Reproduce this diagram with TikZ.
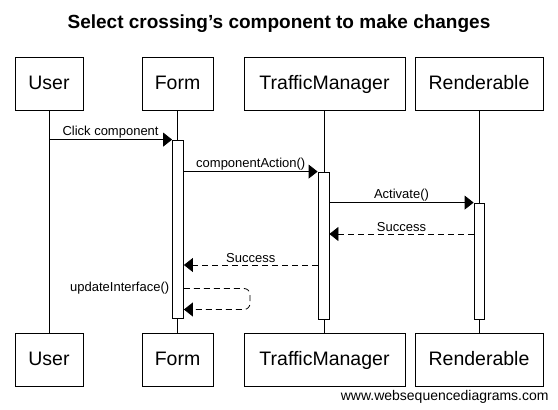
\documentclass[tikz,border=0pt]{standalone}
\usepackage{fontspec}
\setmainfont{Liberation Sans}
\usetikzlibrary{arrows.meta}

\begin{document}
\begin{tikzpicture}[x=1pt,y=-1pt,line width=0.8pt]
    \tikzstyle{actor}=[draw,minimum height=53pt,inner sep=0pt,text height=13pt,text depth=1pt,font=\fontsize{19.5}{22}\selectfont]
    \tikzstyle{activation}=[draw,fill=white,minimum width=11pt,inner sep=0pt]
    \tikzstyle{call}=[-{Triangle[length=9pt,width=14pt]}]
    \tikzstyle{reply}=[call,dash pattern=on 6pt off 4pt]
    \tikzstyle{msg}=[font=\fontsize{13}{15}\selectfont,inner sep=1.5pt]

    \useasboundingbox (0,0) rectangle (558,410);

    % Title
    \node[font=\bfseries\fontsize{19}{21}\selectfont] (title) at (279,24) {Select crossing’s component to make changes};

    % Draw the participant boxes, top and bottom
    \foreach \name/\x/\w/\label in {U/49/68/User,F/177.5/71/Form,T/324.5/161/TrafficManager,R/479/128/Renderable}
    {
        \node[actor, minimum width=\w pt] (T-\name) at (\x,83.5) {\label};
        \node[actor, minimum width=\w pt] (B-\name) at (\x,359.5) {\label};
        \draw (T-\name.south) -- (B-\name.north);
    }

    % Activation bars
    \node[activation, minimum height=178pt] (A-F) at (178,229) {};
    \node[activation, minimum height=147pt] (A-T) at (323.5,245.5) {};
    \node[activation, minimum height=116pt, minimum width=10pt] (A-R) at (479,261) {};

    % Calls
    \draw[call] (T-U.south |- A-F.north) -- node[msg,above] {Click component} (A-F.north west);
    \draw[call] (A-F.east |- A-T.north) -- node[msg,above] {componentAction()} (A-T.north west);
    \draw[call] (A-T.east |- A-R.north) -- node[msg,above] {Activate()} (A-R.north west);

    % Replies
    \coordinate (r1) at (0,234);
    \coordinate (r2) at (0,265);
    \draw[reply] (A-R.west |- r1) -- node[msg,above] {Success} (A-T.east |- r1);
    \draw[reply] (A-T.west |- r2) -- node[msg,above] {Success} (A-F.east |- r2);

    % Self call on the form
    \coordinate (s1) at (0,288.5);
    \coordinate (s2) at (0,309.5);
    \coordinate (s3) at (250,0);
    \draw[reply, rounded corners=6pt] (A-F.east |- s1) -- (s3 |- s1) -- (s3 |- s2) -- (A-F.east |- s2);
    \node[msg, anchor=east] (upd) at ([xshift=-1pt]A-F.west |- s1) {updateInterface()};

    % Footer
    \node[font=\fontsize{14}{16}\selectfont, anchor=east, inner sep=0pt] (www) at (549,397) {www.websequencediagrams.com};
\end{tikzpicture}
\end{document}
